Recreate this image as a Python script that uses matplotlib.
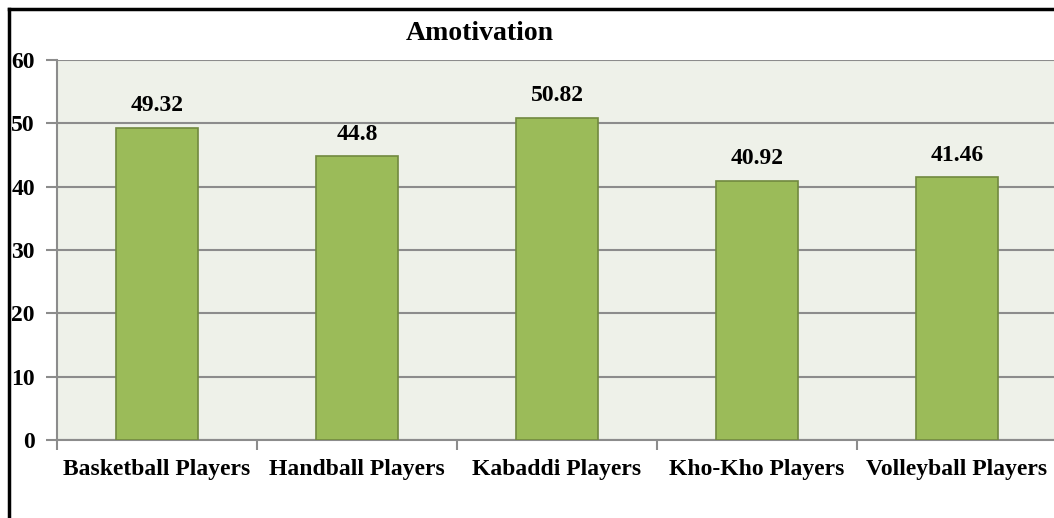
import matplotlib
matplotlib.use("Agg")
import matplotlib.pyplot as plt
from matplotlib.lines import Line2D

categories = ["Basketball Players", "Handball Players", "Kabaddi Players", "Kho-Kho Players", "Volleyball Players"]
values = [49.32, 44.8, 50.82, 40.92, 41.46]
value_labels = ["49.32", "44.8", "50.82", "40.92", "41.46"]
yticks = [0, 10, 20, 30, 40, 50, 60]
title = "Amotivation"

plt.rcParams['font.family'] = ['Liberation Serif', 'DejaVu Serif']
plt.rcParams['font.weight'] = 'bold'

W, H = 1054, 518
fig = plt.figure(figsize=(W/100, H/100), dpi=100)
ax = fig.add_axes([57/W, 1-440/H, 1000/W, 380/H])
ax.set_facecolor('#EEF1E9')

x = list(range(len(categories)))
ax.bar(x, values, width=0.41, color='#9BBB59', edgecolor='#71893F', linewidth=1.2, zorder=3)
for xi, v, lab in zip(x, values, value_labels):
    ax.text(xi, v + 3.5, lab, ha='center', va='center', fontsize=17, fontweight='bold')

ax.set_xlim(-0.5, len(categories) - 0.5)
ax.set_ylim(0, 60)
ax.set_yticks(yticks)
ax.set_yticklabels([str(t) for t in yticks], fontsize=17, fontweight='bold')
ax.yaxis.grid(True, color='#8C8C8C', linewidth=1.5, zorder=0)
ax.set_axisbelow(True)

ax.set_xticks(x)
ax.set_xticklabels(categories, fontsize=17, fontweight='bold')
ax.tick_params(axis='x', length=0, pad=14)
ax.set_xticks([i - 0.5 for i in range(len(categories) + 1)], minor=True)
ax.tick_params(axis='x', which='minor', length=7, color='#8C8C8C', width=1.5)
ax.tick_params(axis='y', length=8, color='#8C8C8C', width=1.5, pad=8)

for s in ['top', 'right']:
    ax.spines[s].set_visible(False)
ax.spines['left'].set_color('#8C8C8C')
ax.spines['left'].set_linewidth(1.5)
ax.spines['bottom'].set_color('#8C8C8C')
ax.spines['bottom'].set_linewidth(1.5)

fig.text(480/W, 1-33/H, title, ha='center', va='center', fontsize=20, fontweight='bold')

# outer chart border (left and top edges visible)
fig.add_artist(Line2D([9/W, 9/W], [0, 1-9/H], color='black', linewidth=2.5, transform=fig.transFigure))
fig.add_artist(Line2D([9/W, 1], [1-9/H, 1-9/H], color='black', linewidth=2.5, transform=fig.transFigure))

fig.savefig("out.png", dpi=100)
